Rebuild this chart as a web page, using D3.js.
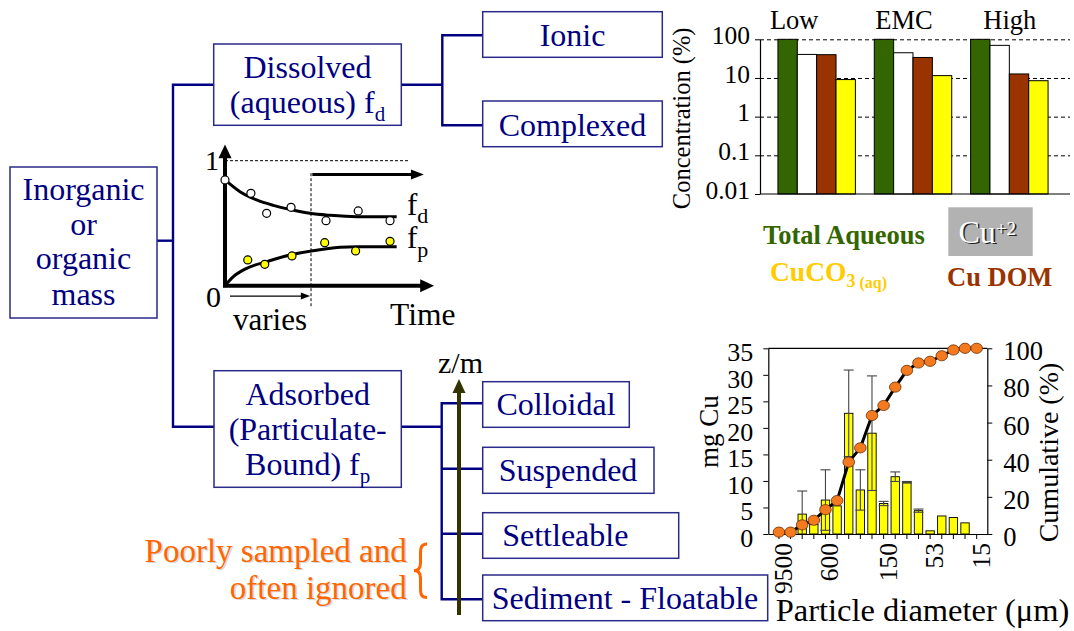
<!DOCTYPE html>
<html><head><meta charset="utf-8">
<script src="https://cdn.jsdelivr.net/npm/d3@7"></script>
<style>
html,body{margin:0;padding:0;background:#fff;}
svg{display:block;font-family:"Liberation Serif","Times New Roman",serif;}
</style></head><body>
<svg id="chart" width="1074" height="631"></svg>
<script>
// ================= DATA =================
// Speciation of aqueous Cu (log scale, %)
const specGroups = ["Low", "EMC", "High"];
const specSeries = ["Total Aqueous", "Cu+2", "Cu DOM", "CuCO3 (aq)"];
const totalAqueous = [100, 100, 100];
const cuFreeIon   = [40.6, 44.9, 69.7];
const cuDOM       = [40.0, 33.9, 12.7];
const cuCO3       = [9.1, 11.5, 8.5];
const concTicks      = [0.01, 0.1, 1, 10, 100];
const concTickLabels = ["0.01", "0.1", "1", "10", "100"];

// Particle size distribution of Cu
const sizeLabels   = ["9500","","","","600","","","","","150","","","","53","","","","15"];
const mgCu         = [0, 0, 3.75, 1.8, 6.4, 5.3, 22.75, 8.3, 19.0, 5.75, 10.8, 9.75, 4.4, 0.6, 3.4, 3.1, 2.1, 0];
const mgCuErr      = [0, 0, 4.35, 0, 5.7, 0, 8.15, 3.8, 10.8, 0.4, 0.9, 0.15, 0.3, 0, 0, 0, 0, 0];
const cumulativePct= [1, 1, 4.9, 7.4, 13.1, 18.0, 38.7, 46.4, 63.8, 69.2, 79.1, 88.1, 92.1, 93.0, 96.0, 99.1, 100, 100];
const mgTicks  = [0, 5, 10, 15, 20, 25, 30, 35];
const cumTicks = [0, 20, 40, 60, 80, 100];

// Partitioning vs time sketch
const fdObsT  = [0, 1.4, 2.25, 3.57, 5.46, 7.2, 8.92];
const fdObs   = [0.846, 0.739, 0.579, 0.627, 0.52, 0.598, 0.52];
const fpObsT  = [1.23, 2.15, 3.62, 5.39, 7.06, 8.92];
const fpObs   = [0.206, 0.171, 0.238, 0.344, 0.278, 0.355];
const fdCurveT = [0, 0.81, 1.71, 2.61, 3.51, 4.59, 5.68, 7.12, 9.28];
const fdCurve  = [0.846, 0.752, 0.686, 0.643, 0.611, 0.579, 0.563, 0.552, 0.552];
const fpCurveT = [0, 0.45, 1.17, 2.25, 3.51, 4.77, 6.22, 7.12, 9.28];
const fpCurve  = [0, 0.072, 0.139, 0.192, 0.246, 0.28, 0.307, 0.312, 0.312];

// Partitioning tree labels ("_x" = subscript)
const treeLabels = {
  root: ["Inorganic", "or", "organic", "mass"],
  dissolved: ["Dissolved", "(aqueous) f_d"],
  ionic: ["Ionic"],
  complexed: ["Complexed"],
  adsorbed: ["Adsorbed", "(Particulate-", "Bound) f_p"],
  colloidal: ["Colloidal"],
  suspended: ["Suspended"],
  settleable: ["Settleable"],
  sediment: ["Sediment - Floatable"]
};

// ================= LAYOUT / STYLE =================
const svg = d3.select("#chart");
const NAVY = "#000080", BOX = "#2a2a8a";

const boxLayout = {
  root:{x:10,y:167,w:147,h:151,tx:83.5,base:[200,235,269,305]},
  dissolved:{x:213.7,y:44,w:187.6,h:81.3,tx:307.5,base:[78.3,113.3]},
  ionic:{x:482.7,y:11.7,w:179.6,h:45.6,tx:572.5,base:[45.7]},
  complexed:{x:482.7,y:101,w:179.6,h:45.7,tx:572.5,base:[136]},
  adsorbed:{x:214,y:370.7,w:187.3,h:116.6,tx:307.7,base:[405,440,475]},
  colloidal:{x:482.7,y:381.7,w:146.6,h:45.6,tx:556,base:[415]},
  suspended:{x:482.7,y:447.3,w:171.3,h:46,tx:568,base:[480.7]},
  settleable:{x:482.7,y:512.7,w:196,h:45.6,tx:565.3,base:[546]},
  sediment:{x:482.7,y:575,w:285,h:45.7,tx:625,base:[609.3]}
};
const connectors = [
  [[157,240.7],[173,240.7]],
  [[213.7,84.7],[173,84.7],[173,426.7],[214,426.7]],
  [[401.3,84.7],[442.3,84.7]],
  [[482.7,35.3],[442.3,35.3],[442.3,125.3],[482.7,125.3]],
  [[401.3,426.7],[441.7,426.7]],
  [[482.7,403.3],[441.7,403.3],[441.7,599.3],[482.7,599.3]],
  [[441.7,468.7],[482.7,468.7]],
  [[441.7,533.7],[482.7,533.7]]
];

function richText(sel, str, size, subSize, subDy) {
  const parts = str.split("_");
  sel.append("tspan").text(parts[0]);
  if (parts.length > 1) {
    sel.append("tspan").attr("font-size", subSize).attr("dy", subDy).text(parts[1]);
  }
}

// ----- tree -----
const gTree = svg.append("g");
gTree.selectAll("path.conn").data(connectors).join("path")
  .attr("d", d => d3.line()(d)).attr("fill","none")
  .attr("stroke", NAVY).attr("stroke-width", 2.4);

Object.keys(treeLabels).forEach(k => {
  const L = boxLayout[k];
  gTree.append("rect").attr("x",L.x).attr("y",L.y).attr("width",L.w).attr("height",L.h)
    .attr("fill","#fff").attr("stroke",BOX).attr("stroke-width",1.5);
  treeLabels[k].forEach((line, i) => {
    const t = gTree.append("text").attr("x", L.tx).attr("y", L.base[i])
      .attr("text-anchor","middle").attr("font-size",32).attr("fill",NAVY);
    richText(t, line, 32, 21, 8);
  });
});

// z/m arrow
gTree.append("line").attr("x1",459).attr("x2",459).attr("y1",615).attr("y2",390)
  .attr("stroke","#333300").attr("stroke-width",4);
gTree.append("path").attr("d","M459,379 L465.5,393 L452.5,393 Z").attr("fill","#333300");
gTree.append("text").attr("x",438).attr("y",373).attr("font-size",30).attr("fill","#000").text("z/m");

// Poorly sampled
const orange = "#ff6600";
[["Poorly sampled and",561.7],["often ignored",598.5]].forEach(([s,y]) => {
  gTree.append("text").attr("x",408.2).attr("y",y+1.5).attr("text-anchor","end")
    .attr("font-size",33).attr("fill","#d8d8d8").text(s);
  gTree.append("text").attr("x",406.7).attr("y",y).attr("text-anchor","end")
    .attr("font-size",33).attr("fill",orange).text(s);
});
gTree.append("path")
  .attr("d","M427,544 C421,544 420.5,548 420.5,554 L420.5,563 C420.5,568 418.5,570.5 414,570.5 C418.5,570.5 420.5,573 420.5,578 L420.5,588 C420.5,594 421,597.5 427,597.5")
  .attr("fill","none").attr("stroke",orange).attr("stroke-width",3);

// ----- time sketch -----
const tx = d3.scaleLinear().domain([0,10]).range([225,410]);
const ty = d3.scaleLinear().domain([0,1]).range([285.7,160.7]);
const gS = svg.append("g");
gS.append("line").attr("x1",tx(0)).attr("x2",tx(9.9)).attr("y1",ty(1)).attr("y2",ty(1))
  .attr("stroke","#000").attr("stroke-width",1).attr("stroke-dasharray","3,2");
gS.append("line").attr("x1",tx(4.65)).attr("x2",tx(4.65)).attr("y1",ty(0.9)).attr("y2",ty(-0.17))
  .attr("stroke","#000").attr("stroke-width",1).attr("stroke-dasharray","3,2");
// steady-state arrow
gS.append("line").attr("x1",tx(4.72)).attr("x2",tx(10.3)).attr("y1",ty(0.89)).attr("y2",ty(0.89))
  .attr("stroke","#000").attr("stroke-width",3);
gS.append("path").attr("d",`M${tx(10.75)},${ty(0.89)} L${tx(10.05)},${ty(0.89)-5} L${tx(10.05)},${ty(0.89)+5} Z`).attr("fill","#000");
// varies arrow
gS.append("line").attr("x1",tx(0.27)).attr("x2",tx(4.2)).attr("y1",ty(-0.083)).attr("y2",ty(-0.083))
  .attr("stroke","#000").attr("stroke-width",1.4);
gS.append("path").attr("d",`M${tx(4.6)},${ty(-0.083)} L${tx(4.1)},${ty(-0.083)-3.5} L${tx(4.1)},${ty(-0.083)+3.5} Z`).attr("fill","#000");
// curves
const lineT = d3.line().curve(d3.curveMonotoneX).x(d=>tx(d[0])).y(d=>ty(d[1]));
gS.append("path").attr("d", lineT(fdCurveT.map((t,i)=>[t,fdCurve[i]])))
  .attr("fill","none").attr("stroke","#000").attr("stroke-width",3);
gS.append("path").attr("d", lineT(fpCurveT.map((t,i)=>[t,fpCurve[i]])))
  .attr("fill","none").attr("stroke","#000").attr("stroke-width",3);
// axes
gS.append("line").attr("x1",tx(0)).attr("x2",tx(0)).attr("y1",ty(-0.012)).attr("y2",ty(1.03))
  .attr("stroke","#000").attr("stroke-width",4);
gS.append("path").attr("d",`M${tx(0)},${ty(1.13)} L${tx(0)+6.5},${ty(1.02)} L${tx(0)-6.5},${ty(1.02)} Z`).attr("fill","#000");
gS.append("line").attr("x1",tx(0)-2).attr("x2",tx(10.7)).attr("y1",ty(0)).attr("y2",ty(0))
  .attr("stroke","#000").attr("stroke-width",4);
gS.append("path").attr("d",`M${tx(11.3)},${ty(0)} L${tx(10.55)},${ty(0)-6.5} L${tx(10.55)},${ty(0)+6.5} Z`).attr("fill","#000");
// observations
gS.selectAll("circle.fd").data(fdObsT).join("circle").attr("class","fd")
  .attr("cx",(d)=>tx(d)).attr("cy",(d,i)=>ty(fdObs[i])).attr("r",4)
  .attr("fill","#fff").attr("stroke","#000").attr("stroke-width",1.2);
gS.selectAll("circle.fp").data(fpObsT).join("circle").attr("class","fp")
  .attr("cx",(d)=>tx(d)).attr("cy",(d,i)=>ty(fpObs[i])).attr("r",4)
  .attr("fill","#ffff00").attr("stroke","#000").attr("stroke-width",1.2);
// labels
gS.append("text").attr("x",tx(0)-6).attr("y",ty(1)+9).attr("text-anchor","end").attr("font-size",28).text("1");
gS.append("text").attr("x",tx(0)-4).attr("y",ty(0)+21).attr("text-anchor","end").attr("font-size",30).text("0");
gS.append("text").attr("x",233).attr("y",330).attr("font-size",31).text("varies");
gS.append("text").attr("x",390).attr("y",325).attr("font-size",31.5).text("Time");
const fd = gS.append("text").attr("x",407).attr("y",215).attr("font-size",31);
richText(fd,"f_d",31,22,8);
const fp = gS.append("text").attr("x",407).attr("y",248).attr("font-size",31);
richText(fp,"f_p",31,22,9);

// ----- speciation chart -----
const specL = 760, specR = 1070;
const yC = d3.scaleLog().domain([0.01,100]).range([194,39.3]);
const xG = d3.scaleBand().domain(specGroups).range([768.5,1057.5]).paddingInner(0.196).paddingOuter(0.098);
const xS = d3.scaleBand().domain(specSeries).range([0, xG.bandwidth()]);
const specColors = ["#336600", "#ffffff", "#993300", "#ffff00"];
const specValues = [totalAqueous, cuFreeIon, cuDOM, cuCO3];
const gC = svg.append("g");
const grid = gC.append("g").attr("transform",`translate(${specL},0)`)
  .call(d3.axisLeft(yC).tickValues(concTicks.slice(1)).tickSize(-(specR-specL)).tickFormat(""));
grid.select(".domain").remove();
grid.selectAll("line").attr("stroke","#000").attr("stroke-width",1).attr("stroke-dasharray","4,3");
specGroups.forEach((g, gi) => {
  specSeries.forEach((s, si) => {
    const v = specValues[si][gi];
    gC.append("rect").attr("x", xG(g)+xS(s)).attr("y", yC(v))
      .attr("width", xS.bandwidth()).attr("height", yC(0.01)-yC(v))
      .attr("fill", specColors[si]).attr("stroke","#000").attr("stroke-width",1);
  });
});
const yAx = gC.append("g").attr("transform",`translate(${specL},0)`)
  .call(d3.axisLeft(yC).tickValues(concTicks).tickFormat((d,i)=>concTickLabels[i]).tickSize(5).tickSizeOuter(0).tickPadding(5));
yAx.selectAll("text").attr("font-size",25.5).attr("font-family","Liberation Serif").attr("fill","#000").attr("y",-4);
yAx.select(".domain").attr("stroke","#000").attr("stroke-width",1.2);
gC.append("line").attr("x1",specL).attr("x2",specR).attr("y1",yC(0.01)).attr("y2",yC(0.01))
  .attr("stroke","#000").attr("stroke-width",1.2);
const groupLabelDx = [-8, 1, 12.7];
specGroups.forEach((g,i) => {
  gC.append("text").attr("x", xG(g)+groupLabelDx[i]).attr("y",29.3).attr("font-size",26.5).text(g);
});
gC.append("text").attr("transform","translate(690,118.3) rotate(-90)").attr("text-anchor","middle")
  .attr("font-size",24.5).text("Concentration (%)");
// legend
gC.append("text").attr("x",763).attr("y",244.3).attr("font-size",26.5).attr("font-weight","bold")
  .attr("fill","#336600").text("Total Aqueous");
const co3 = gC.append("text").attr("x",770).attr("y",281).attr("font-weight","bold").attr("fill","#ffcc00").attr("font-size",27.5);
co3.append("tspan").text("CuCO");
co3.append("tspan").attr("font-size",18).attr("dy",6).text("3");
co3.append("tspan").attr("font-size",16).attr("dy",1).text(" (aq)");
gC.append("text").attr("x",947).attr("y",286).attr("font-size",26.5).attr("font-weight","bold")
  .attr("fill","#993300").text("Cu DOM");
gC.append("rect").attr("x",948.3).attr("y",207.3).attr("width",84.4).attr("height",48.7).attr("fill","#b2b2b2");
[["#222",1.6],["#ffffff",0]].forEach(([c,o]) => {
  const t = gC.append("text").attr("x",958.5+o).attr("y",242.7+o).attr("font-size",32).attr("fill",c);
  t.append("tspan").text("Cu");
  t.append("tspan").attr("font-size",19).attr("dy",-8).text("+2");
});

// ----- particle size histogram -----
const hL = 768.3, hR = 987.3;
const xH = d3.scaleBand().domain(d3.range(sizeLabels.length)).range([hL,hR]).paddingOuter(0.415).paddingInner(0);
const yH = d3.scaleLinear().domain([0,35]).range([534,348.3]);
const yCum = d3.scaleLinear().domain([0,100]).range([534,348.3]);
const gH = svg.append("g");
const bw = xH.bandwidth()*0.72;
gH.selectAll("rect.bar").data(mgCu).join("rect").attr("class","bar")
  .attr("x",(d,i)=>xH(i)+(xH.bandwidth()-bw)/2).attr("y",d=>yH(d))
  .attr("width",bw).attr("height",d=>yH(0)-yH(d))
  .attr("fill","#ffff00").attr("stroke","#000").attr("stroke-width",d=>d>0?0.9:0);
// error bars
mgCu.forEach((v,i) => {
  const e = mgCuErr[i]; if (!e) return;
  const cx = xH(i)+xH.bandwidth()/2;
  const hi = v+e, lo = Math.max(0, v-e);
  gH.append("line").attr("x1",cx).attr("x2",cx).attr("y1",yH(lo)).attr("y2",yH(hi)).attr("stroke","#444").attr("stroke-width",1.1);
  gH.append("line").attr("x1",cx-5).attr("x2",cx+5).attr("y1",yH(hi)).attr("y2",yH(hi)).attr("stroke","#444").attr("stroke-width",1.1);
  if (v-e > 0) gH.append("line").attr("x1",cx-5).attr("x2",cx+5).attr("y1",yH(lo)).attr("y2",yH(lo)).attr("stroke","#444").attr("stroke-width",1.1);
});
// axes
const axL = gH.append("g").attr("transform",`translate(${hL},0)`)
  .call(d3.axisLeft(yH).tickValues(mgTicks).tickSize(5).tickSizeOuter(0).tickPadding(10));
axL.selectAll("text").attr("font-size",26).attr("font-family","Liberation Serif").attr("fill","#000").attr("y",4);
const axR = gH.append("g").attr("transform",`translate(${hR},0)`)
  .call(d3.axisRight(yCum).tickValues(cumTicks).tickSize(5).tickSizeOuter(0).tickPadding(11));
axR.selectAll("text").attr("font-size",26.5).attr("font-family","Liberation Serif").attr("fill","#000").attr("y",3);
const axB = gH.append("g").attr("transform",`translate(0,${yH(0)})`)
  .call(d3.axisBottom(xH).tickSize(5).tickSizeOuter(0).tickFormat(i=>sizeLabels[i]));
axB.selectAll("text").attr("font-size",25.5).attr("font-family","Liberation Serif").attr("fill","#000")
  .attr("transform","rotate(-90)").attr("text-anchor","end").attr("dominant-baseline","central")
  .attr("x",-9).attr("y",4.5).attr("dy",null);
gH.selectAll(".domain").attr("stroke","#000").attr("stroke-width",1.2);
gH.append("line").attr("x1",hL).attr("x2",hR).attr("y1",yH(35)).attr("y2",yH(35)).attr("stroke","#000").attr("stroke-width",1.2);
// cumulative line + dots
const cumLine = d3.line().x((d,i)=>xH(i)+xH.bandwidth()/2).y(d=>yCum(d));
gH.append("path").attr("d",cumLine(cumulativePct)).attr("fill","none").attr("stroke","#000").attr("stroke-width",3);
gH.selectAll("ellipse.cum").data(cumulativePct).join("ellipse").attr("class","cum")
  .attr("cx",(d,i)=>xH(i)+xH.bandwidth()/2).attr("cy",d=>yCum(d)).attr("rx",5.8).attr("ry",5.1)
  .attr("fill","#f47a1f").attr("stroke","#6b2e00").attr("stroke-width",0.8);
// titles
gH.append("text").attr("transform","translate(718,431.7) rotate(-90)").attr("text-anchor","middle")
  .attr("font-size",27).text("mg Cu");
gH.append("text").attr("transform","translate(1057.5,452.5) rotate(-90)").attr("text-anchor","middle")
  .attr("font-size",28).text("Cumulative (%)");
gH.append("text").attr("x",922.5).attr("y",621).attr("text-anchor","middle")
  .attr("font-size",32.5).text("Particle diameter (\u03bcm)");
</script>
</body></html>
